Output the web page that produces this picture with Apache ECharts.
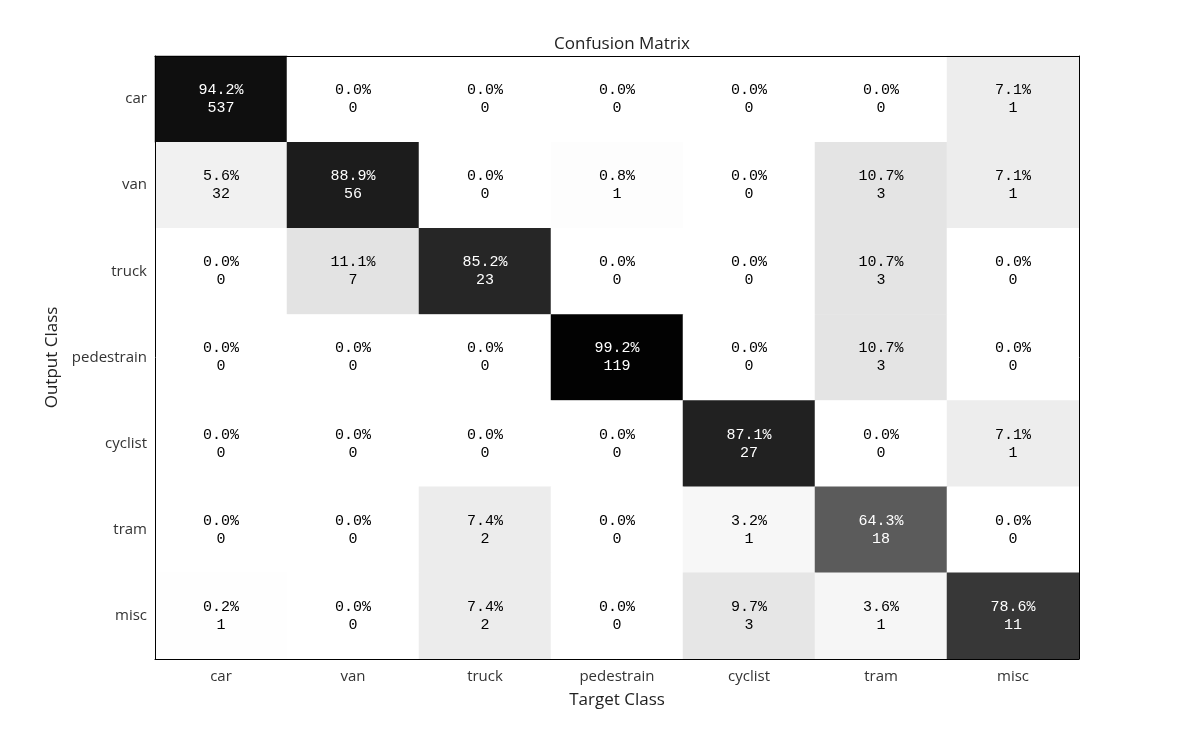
<!DOCTYPE html>
<html>
<head>
<meta charset="utf-8">
<script src="https://cdn.jsdelivr.net/npm/echarts@6/dist/echarts.min.js"></script>
<style>
  html, body { margin: 0; padding: 0; background: #fff; }
  #confusionMatrix { width: 1193px; height: 742px; }
</style>
</head>
<body>
<div id="confusionMatrix"></div>
<script>
    var classNames = ['car', 'van', 'truck', 'pedestrain', 'cyclist', 'tram', 'misc'];

    // rows = output class, columns = target class
    var counts = [
        [537, 0, 0, 0, 0, 0, 1],
        [32, 56, 0, 1, 0, 3, 1],
        [0, 7, 23, 0, 0, 3, 0],
        [0, 0, 0, 119, 0, 3, 0],
        [0, 0, 0, 0, 27, 0, 1],
        [0, 0, 2, 0, 1, 18, 0],
        [1, 0, 2, 0, 3, 1, 11]
    ];

    var percents = [
        [94.2, 0.0, 0.0, 0.0, 0.0, 0.0, 7.1],
        [5.6, 88.9, 0.0, 0.8, 0.0, 10.7, 7.1],
        [0.0, 11.1, 85.2, 0.0, 0.0, 10.7, 0.0],
        [0.0, 0.0, 0.0, 99.2, 0.0, 10.7, 0.0],
        [0.0, 0.0, 0.0, 0.0, 87.1, 0.0, 7.1],
        [0.0, 0.0, 7.4, 0.0, 3.2, 64.3, 0.0],
        [0.2, 0.0, 7.4, 0.0, 9.7, 3.6, 78.6]
    ];

    var chartDom = document.getElementById('confusionMatrix');
    var myChart = echarts.init(chartDom);

    var cells = [];
    for (var r = 0; r < classNames.length; r++) {
        for (var c = 0; c < classNames.length; c++) {
            var p = percents[r][c];
            cells.push({
                value: [c, r, p],
                label: { color: p > 50 ? '#ffffff' : '#000000' }
            });
        }
    }

    var uiFont = '"Open Sans", "DejaVu Sans", sans-serif';

    var option = {
        backgroundColor: '#ffffff',
        animation: false,
        title: {
            text: 'Confusion Matrix',
            left: 617,
            top: 31,
            textAlign: 'center',
            textStyle: { fontFamily: uiFont, fontSize: 17, fontWeight: 'normal', color: '#222' }
        },
        grid: {
            left: 155, top: 56, right: 114, bottom: 83,
            show: false
        },
        visualMap: {
            show: false,
            type: 'continuous',
            min: 0,
            max: 100,
            dimension: 2,
            inRange: { color: ['#ffffff', '#000000'] }
        },
        xAxis: [
            {
                type: 'category',
                data: classNames,
                position: 'bottom',
                name: 'Target Class',
                nameLocation: 'middle',
                nameGap: 33,
                nameTextStyle: { fontFamily: uiFont, fontSize: 17, color: '#222' },
                axisLine: { show: true, lineStyle: { color: '#000', width: 1 } },
                axisTick: { show: false },
                axisLabel: { fontFamily: uiFont, fontSize: 15, color: '#333', margin: 10 },
                splitLine: { show: false },
                z: 10
            },
            {
                type: 'category',
                data: classNames,
                position: 'top',
                axisLine: { show: true, lineStyle: { color: '#000', width: 1 } },
                axisTick: { show: false },
                axisLabel: { show: false },
                z: 10
            }
        ],
        yAxis: [
            {
                type: 'category',
                data: classNames,
                inverse: true,
                position: 'left',
                name: 'Output Class',
                nameLocation: 'middle',
                nameGap: 90,
                nameRotate: 90,
                nameTextStyle: { fontFamily: uiFont, fontSize: 17, color: '#222' },
                axisLine: { show: true, lineStyle: { color: '#000', width: 1 } },
                axisTick: { show: false },
                axisLabel: { fontFamily: uiFont, fontSize: 15, color: '#333', margin: 8 },
                splitLine: { show: false },
                z: 10
            },
            {
                type: 'category',
                data: classNames,
                inverse: true,
                position: 'right',
                axisLine: { show: true, lineStyle: { color: '#000', width: 1 } },
                axisTick: { show: false },
                axisLabel: { show: false },
                z: 10
            }
        ],
        series: [
            {
                type: 'heatmap',
                xAxisIndex: 0,
                yAxisIndex: 0,
                data: cells,
                label: {
                    show: true,
                    fontFamily: '"Liberation Mono", "DejaVu Sans Mono", monospace',
                    fontSize: 15,
                    lineHeight: 18,
                    padding: [2, 0, 0, 0],
                    formatter: function (item) {
                        var c = item.value[0], r = item.value[1];
                        return item.value[2].toFixed(1) + '%\n' + counts[r][c];
                    }
                },
                itemStyle: { borderWidth: 0 },
                emphasis: { disabled: true }
            }
        ]
    };

    myChart.setOption(option);
</script>
</body>
</html>
